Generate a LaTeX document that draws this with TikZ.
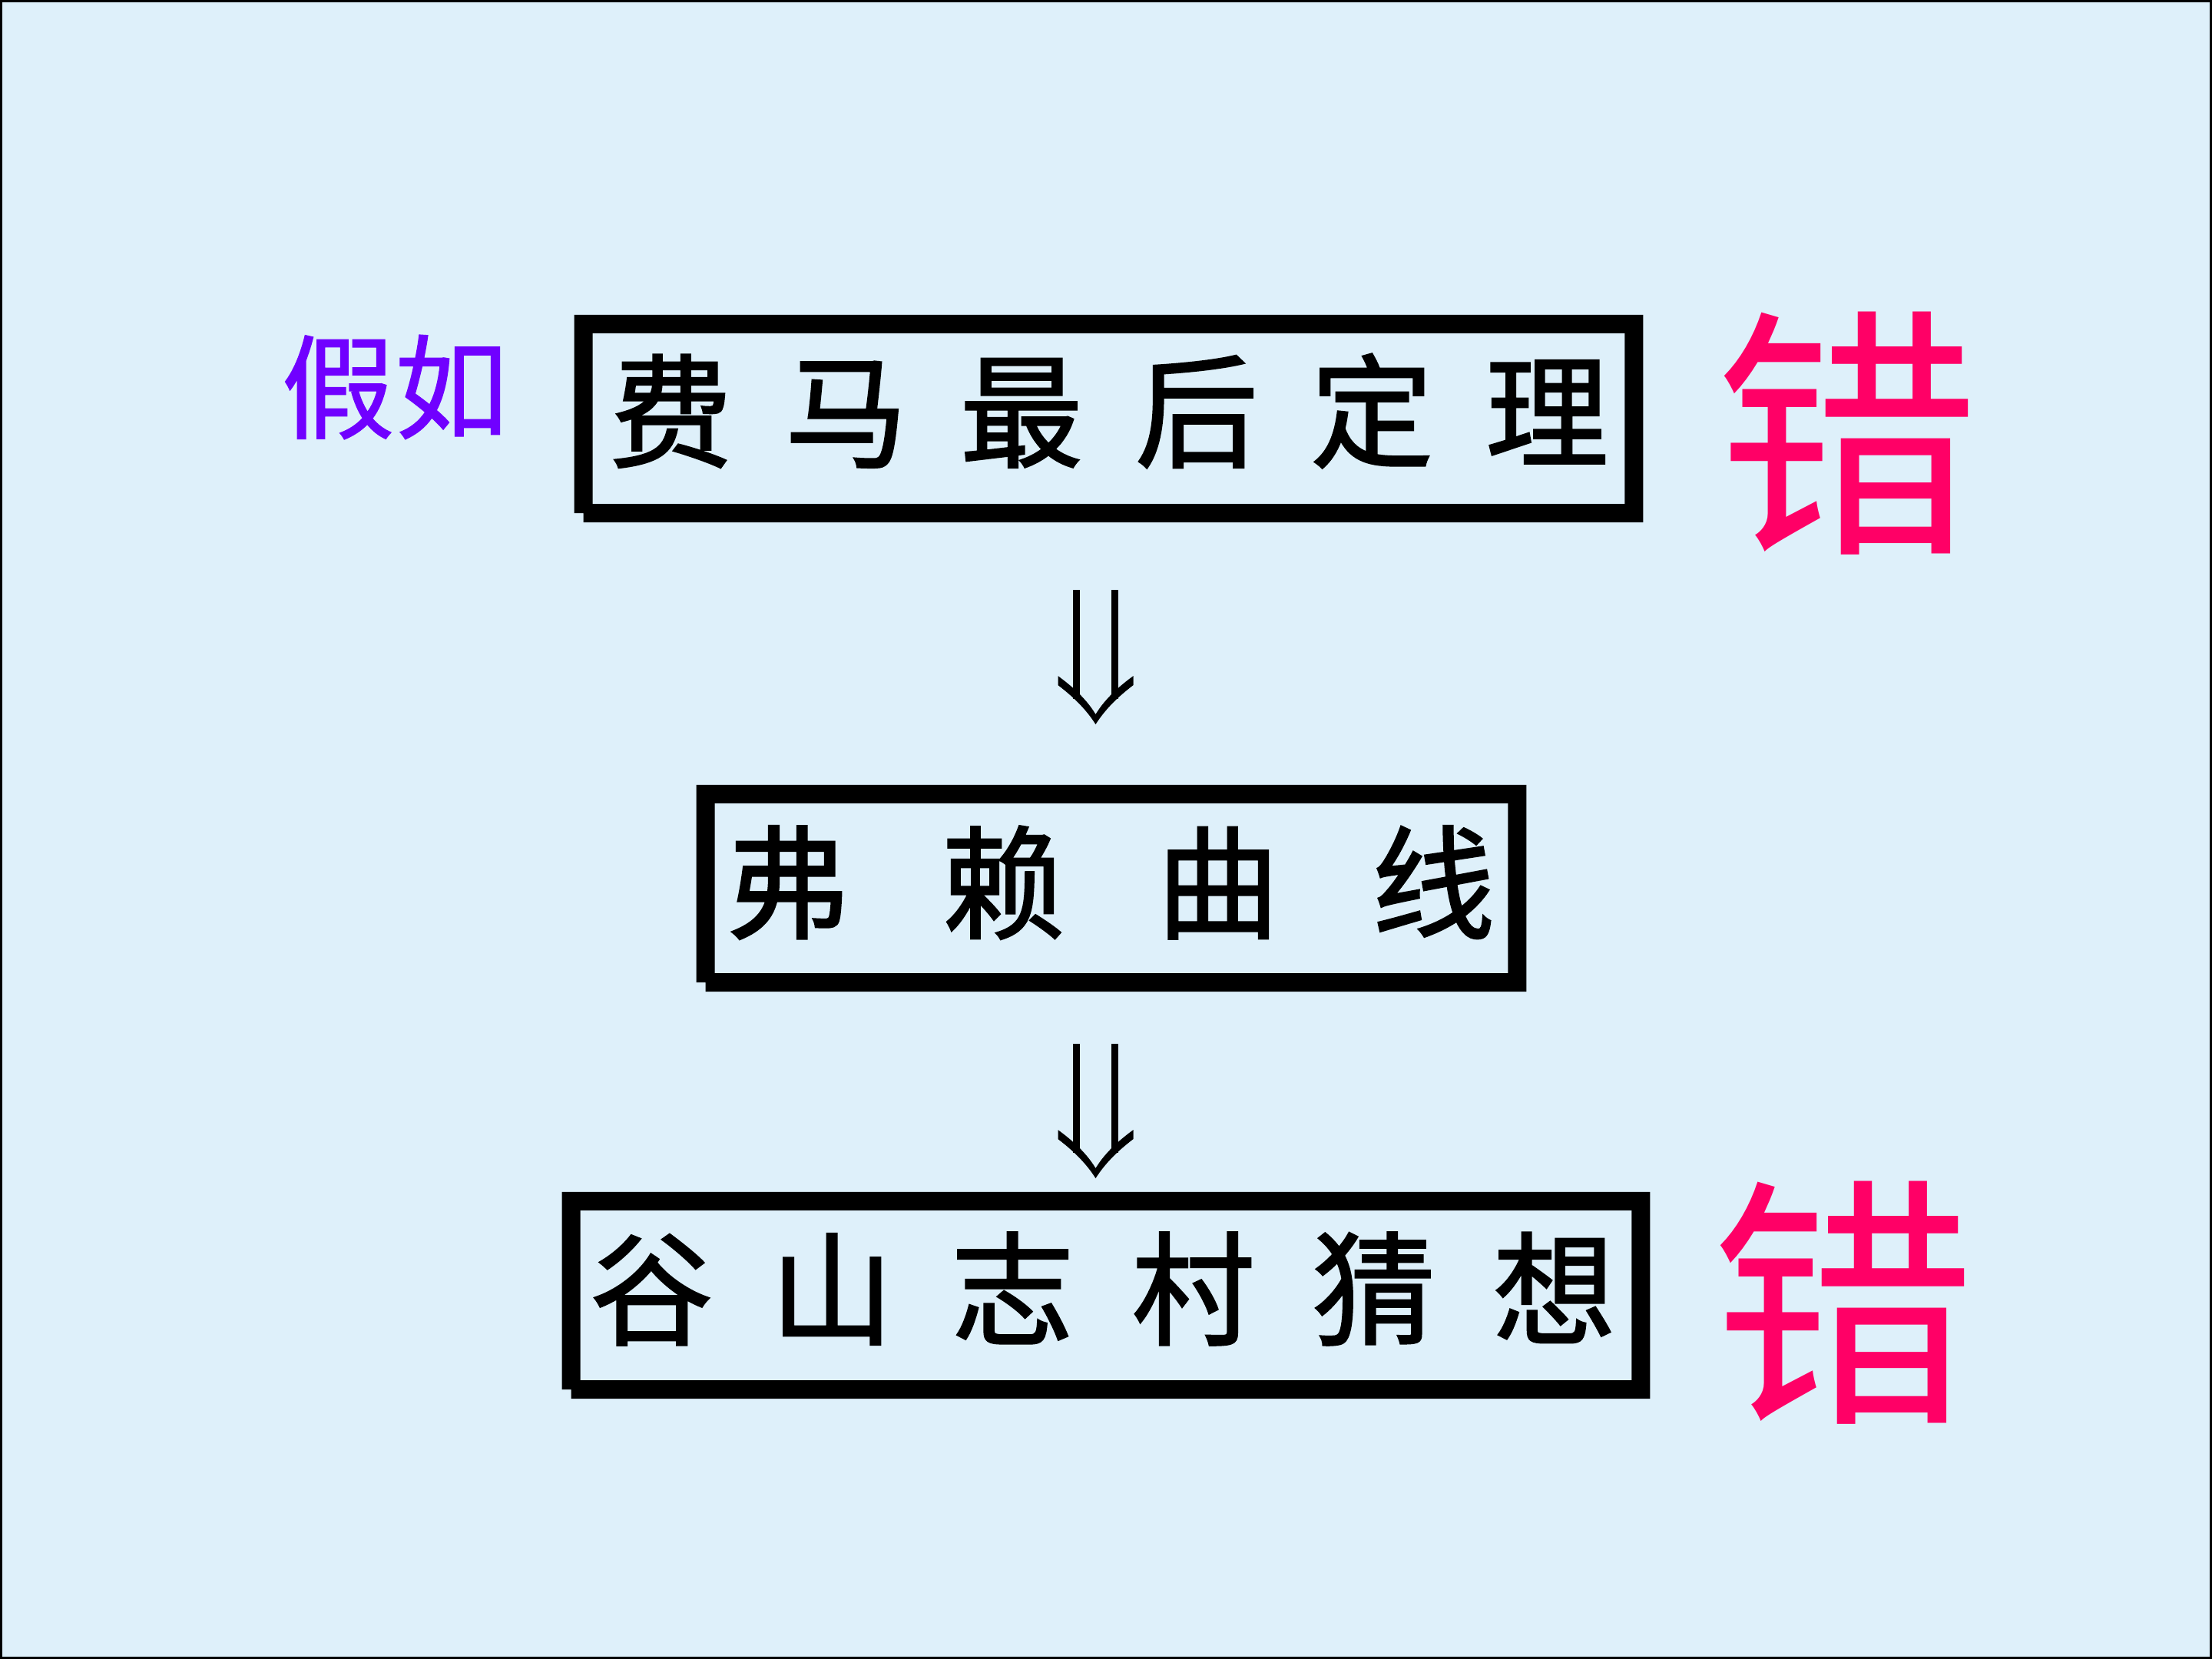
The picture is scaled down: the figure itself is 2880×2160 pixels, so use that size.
\documentclass[tikz,border=0pt]{standalone}
\usepackage{fontspec}
\newfontfamily\cjk{Noto Sans CJK SC}
\newfontfamily\cjkb[FakeBold=1.6]{Noto Sans CJK SC}
\newfontfamily\cjkm[FakeBold=0.8]{Noto Sans CJK SC}
\usetikzlibrary{calc}
\definecolor{bg}{RGB}{222,240,250}
\definecolor{wrongc}{RGB}{255,0,102}
\definecolor{ifc}{RGB}{112,0,255}
\newlength\cpitch
\newcommand\cc[1]{\makebox[\cpitch]{#1}}
\newcommand\myframebox[1]{%
  \fill[black,even odd rule]
    ($(#1.north west)+(-24,-24)$) -- ($(#1.north east)+(24,-24)$) --
    ($(#1.south east)+(24,24)$) -- ($(#1.south west)+(-12,24)$) --
    ($(#1.south west)+(-12,12)$) -- ($(#1.south west)+(-24,12)$) -- cycle
    (#1.north west) rectangle (#1.south east);}
\begin{document}
\begin{tikzpicture}[x=0.01cm,y=-0.01cm,
  inbox/.style={draw=none,inner sep=0,outer sep=0},
  boxtext/.style={inner sep=0,font=\cjkb\fontsize{45.5}{50}\selectfont},
  iftext/.style={inner sep=0,text=ifc,font=\cjkm\fontsize{42}{46}\selectfont},
  wrongtext/.style={inner sep=0,text=wrongc,font=\cjk\fontsize{98}{100}\selectfont},
  dblarrow/.pic={
    \fill (-29.5,0) rectangle (-20.5,142);
    \fill (20.5,0) rectangle (29.5,142);
    \fill (-49,112) .. controls (-30,126) and (-12,142) .. (0,162)
      .. controls (12,142) and (30,126) .. (49,112) -- (49,124)
      .. controls (32,137) and (14,153) .. (0,175)
      .. controls (-14,153) and (-32,137) .. (-49,124) -- cycle;
  }]
\useasboundingbox (0,0) rectangle (2880,2160);
\fill[bg] (0,0) rectangle (2880,2160);
\draw[black,line width=0.03cm] (1.5,1.5) rectangle (2878.5,2158.5);

% boxes (inner areas)
\node[inbox,minimum width=13.43cm,minimum height=2.22cm] (b1) at (1443.5,545) {};
\node[inbox,minimum width=10.32cm,minimum height=2.21cm] (b2) at (1447,1156.5) {};
\node[inbox,minimum width=13.68cm,minimum height=2.21cm] (b3) at (1440,1686.5) {};
\myframebox{b1}
\myframebox{b2}
\myframebox{b3}

% box texts
\node[boxtext] (t1) at (1444,535) {\setlength\cpitch{2.28cm}\cc{费}\cc{马}\cc{最}\cc{后}\cc{定}\cc{理}};
\node[boxtext] (t2) at (1446,1149) {\setlength\cpitch{2.8cm}\cc{弗}\cc{赖}\cc{曲}\cc{线}};
\node[boxtext] (t3) at (1436,1678) {\setlength\cpitch{2.35cm}\cc{谷}\cc{山}\cc{志}\cc{村}\cc{猜}\cc{想}};

% side labels
\node[iftext] (jr) at (514,504) {假如};
\node[wrongtext] (w1) at (2405,564) {错};
\node[wrongtext] (w2) at (2400,1696) {错};

% arrows
\path (b1.south) ++(-17,112) coordinate (a1);
\path (b2.south) ++(-20.5,92) coordinate (a2);
\pic at (a1) {dblarrow};
\pic at (a2) {dblarrow};
\end{tikzpicture}
\end{document}
